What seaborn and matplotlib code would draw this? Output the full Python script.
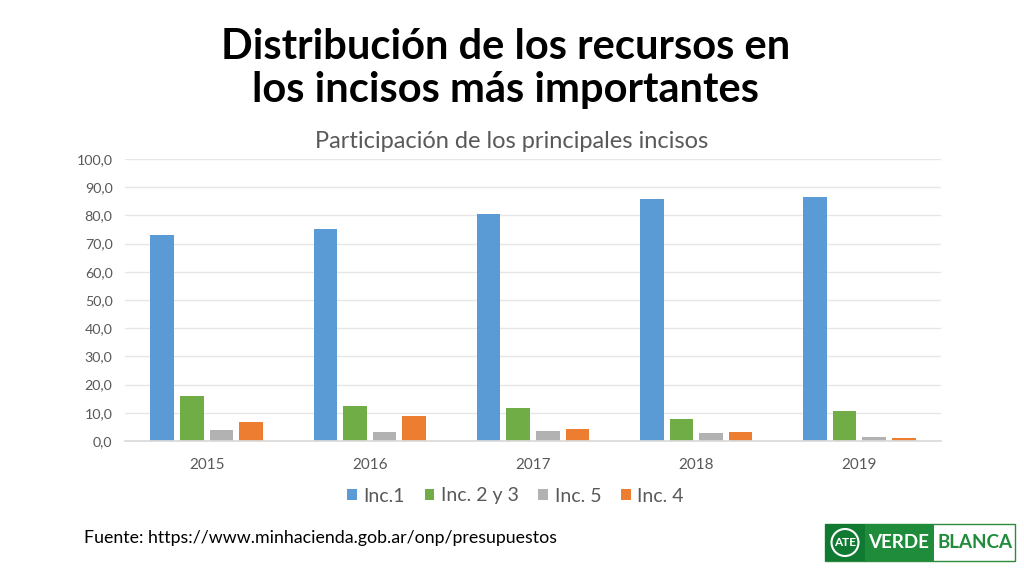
import matplotlib
matplotlib.use('Agg')
import matplotlib.pyplot as plt
from matplotlib.patches import Rectangle, Circle
import pandas as pd
import seaborn as sns

years = ['2015', '2016', '2017', '2018', '2019']
inc_1 = [72.9, 75.3, 80.4, 85.8, 86.6]
inc_2y3 = [16.1, 12.4, 11.7, 7.9, 10.7]
inc_5 = [3.8, 3.3, 3.4, 2.9, 1.5]
inc_4 = [6.8, 8.7, 4.4, 3.3, 1.1]
series_names = ['Inc.1', 'Inc. 2 y 3', 'Inc. 5', 'Inc. 4']
colors = ['#5B9BD5', '#70AD47', '#B2B2B2', '#ED7D31']
y_ticks = [0, 10, 20, 30, 40, 50, 60, 70, 80, 90, 100]

sns.set_theme(style='white')
plt.rcParams['font.family'] = ['Lato', 'DejaVu Sans']

df = pd.DataFrame({'year': years, 'Inc.1': inc_1, 'Inc. 2 y 3': inc_2y3,
                   'Inc. 5': inc_5, 'Inc. 4': inc_4})
df = df.melt(id_vars='year', value_vars=series_names, var_name='inciso', value_name='valor')

W, H = 1024, 576
fig = plt.figure(figsize=(W / 100, H / 100), dpi=100, facecolor='white')
ax = fig.add_axes([125 / W, 1 - 441 / H, (941 - 125) / W, (441 - 159) / H])

sns.barplot(data=df, x='year', y='valor', hue='inciso', hue_order=series_names,
            palette=colors, width=0.725, gap=0.2, saturation=1, linewidth=0,
            legend=True, ax=ax)

ax.set_xlim(-0.5, 4.5)
ax.set_ylim(0, 100)
ax.set_yticks(y_ticks)
ax.set_yticklabels([f'{v},0' for v in y_ticks])
ax.set_xlabel('')
ax.set_ylabel('')
ax.grid(axis='y', color='#E6E6E6', linewidth=1)
ax.set_axisbelow(True)
sns.despine(ax=ax, left=True, top=True, right=True)
ax.spines['bottom'].set_color('#DADADA')
ax.tick_params(axis='y', length=0, labelcolor='#595959', labelsize=10.3, pad=9)
ax.tick_params(axis='x', length=0, labelcolor='#595959', labelsize=11, pad=12)

# legend goes below the plot, in a row
handles, labels = ax.get_legend_handles_labels()
ax.get_legend().remove()
fig.legend(handles, labels, loc='center', bbox_to_anchor=(515.5 / W, 1 - 496 / H), ncol=4,
           frameon=False, fontsize=14, labelcolor='#595959', handlelength=0.5,
           handleheight=0.5, handletextpad=0.35, columnspacing=1.0)

# headings
fig.text(506 / W, 1 - 47 / H, 'Distribución de los recursos en', ha='center', va='center',
         fontsize=30, fontweight='bold', color='black')
fig.text(505 / W, 1 - 90 / H, 'los incisos más importantes', ha='center', va='center',
         fontsize=30, fontweight='bold', color='black')
fig.text(512 / W, 1 - 142 / H, 'Participación de los principales incisos', ha='center',
         va='center', fontsize=17, color='#595959')
fig.text(84 / W, 1 - 538 / H, 'Fuente: https://www.minhacienda.gob.ar/onp/presupuestos',
         ha='left', va='center', fontsize=12.8, color='black')

# logo, drawn in pixel coordinates
logo = fig.add_axes([0, 0, 1, 1], facecolor='none')
logo.set_xlim(0, W)
logo.set_ylim(H, 0)
logo.axis('off')
logo.add_patch(Rectangle((825, 524), 190, 37, facecolor='white', edgecolor='#2E8B3D', linewidth=1))
logo.add_patch(Rectangle((825, 524), 40, 37, facecolor='#107A33', edgecolor='none'))
logo.add_patch(Rectangle((865, 524), 69, 37, facecolor='#1F8C3B', edgecolor='none'))
logo.add_patch(Circle((845, 542.5), 13.5, facecolor='#107A33', edgecolor='white', linewidth=1.5))
logo.text(845, 543, 'ATE', ha='center', va='center', fontsize=8.5, fontweight='bold', color='white')
logo.text(899, 543, 'VERDE', ha='center', va='center', fontsize=13.5, fontweight='bold', color='white')
logo.text(975, 543, 'BLANCA', ha='center', va='center', fontsize=13.5, fontweight='bold', color='#1F8C3B')

fig.savefig('out.png', dpi=100)
